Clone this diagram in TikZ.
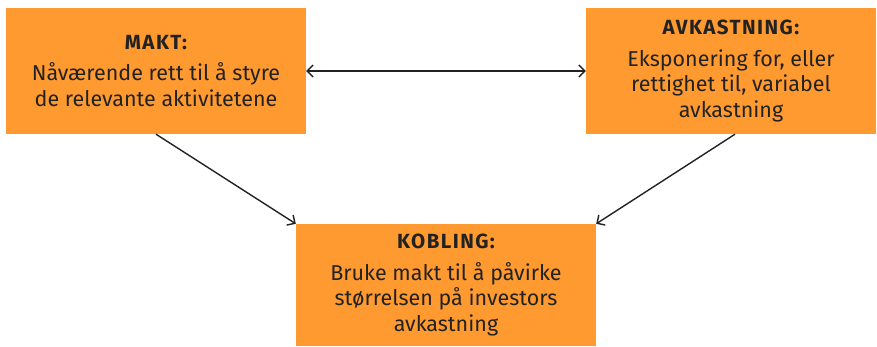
\documentclass[tikz,border=0pt]{standalone}
\usepackage{fontspec}
\setmainfont{Fira Sans}
\usetikzlibrary{arrows.meta}
\definecolor{boxorange}{HTML}{FF9A30}
\definecolor{ink}{HTML}{222222}
% spaced bold heading inside a box
\newcommand{\boxhead}[1]{{\bfseries\fontsize{20.5}{25}\selectfont\addfontfeature{LetterSpace=7}#1}}
\begin{document}
\begin{tikzpicture}[x=1pt,y=-1pt,
  infobox/.style={fill=boxorange, draw=none, inner sep=0pt, align=center,
    text=ink, font=\fontsize{21.5}{25.5}\selectfont},
  arr/.style={draw=ink, line width=1.4pt,
    arrows={-Straight Barb[length=6pt,width=12pt]}},
  biarr/.style={draw=ink, line width=1.4pt,
    arrows={Straight Barb[length=6pt,width=12pt]-Straight Barb[length=6pt,width=12pt]}}]
  \useasboundingbox (0,0) rectangle (877,346);
  % the three boxes
  \node[infobox, minimum width=300pt, minimum height=126pt] (makt) at (156,71)
    {\boxhead{MAKT:}\\[6pt]Nåværende rett til å styre\\de relevante aktivitetene};
  \node[infobox, minimum width=290pt, minimum height=126pt] (avk) at (731,71)
    {\boxhead{AVKASTNING:}\\[6pt]Eksponering for, eller\\rettighet til, variabel\\avkastning};
  \node[infobox, minimum width=300pt, minimum height=122pt] (kob) at (446,285)
    {\boxhead{KOBLING:}\\[6pt]Bruke makt til å påvirke\\størrelsen på investors\\avkastning};
  % connectors
  \draw[biarr] (makt.east) -- (avk.west);
  \draw[arr] (makt.south) -- (kob.north west);
  \draw[arr] ([xshift=4pt]avk.south) -- (kob.north east);
\end{tikzpicture}
\end{document}
